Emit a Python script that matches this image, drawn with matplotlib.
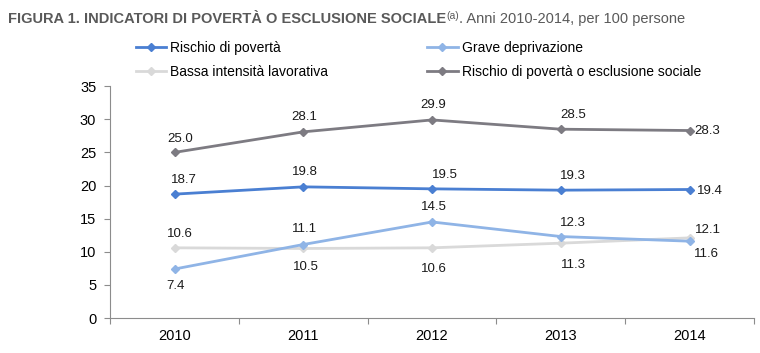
import matplotlib
matplotlib.use("Agg")
import matplotlib.pyplot as plt
import numpy as np

plt.rcParams['font.family'] = ['Liberation Sans', 'DejaVu Sans']

years = ["2010", "2011", "2012", "2013", "2014"]
rischio = [18.7, 19.8, 19.5, 19.3, 19.4]
grave = [7.4, 11.1, 14.5, 12.3, 11.6]
bassa = [10.6, 10.5, 10.6, 11.3, 12.1]
rpes = [25.0, 28.1, 29.9, 28.5, 28.3]

names = ["Rischio di povertà", "Grave deprivazione",
         "Bassa intensità lavorativa", "Rischio di povertà o esclusione sociale"]
colors = ["#4a7fd2", "#8fb4e6", "#d9d9d9", "#7d7b82"]

# label offsets in points (dx, dy)
offsets = {
    0: [(7, 10), (1, 11), (9, 10), (9, 10), (15, -1)],
    1: [(1, -12), (1, 11), (1, 11), (9, 10), (12, -9)],
    2: [(4, 10), (2, -13), (1, -15), (9, -16), (13, 6)],
    3: [(4, 10), (1, 11), (1, 11), (9, 10), (13, 0)],
}

fig = plt.figure(figsize=(7.6, 3.53), dpi=100)
ax = fig.add_axes([0.145, 0.099, 0.847, 0.657])

x = np.arange(len(years))
series = [rischio, grave, bassa, rpes]
draw_order = [2, 1, 0, 3]
handles = {}
for i in draw_order:
    h, = ax.plot(x, series[i], color=colors[i], lw=2, marker="D", ms=4,
                 label=names[i], zorder=3)
    handles[i] = h
    for j, v in enumerate(series[i]):
        dx, dy = offsets[i][j]
        ax.annotate(f"{v:.1f}", (x[j], v), xytext=(dx, dy), textcoords="offset points",
                    ha="center", va="center", fontsize=9.5, color="#1a1a1a")

ax.set_xlim(-0.5, 4.5)
ax.set_ylim(0, 35)
ax.set_yticks(range(0, 36, 5))
ax.set_xticks(np.arange(-0.5, 5, 1))
ax.set_xticklabels([])
ax.set_xticks(x, minor=True)
ax.set_xticklabels(years, minor=True)
ax.tick_params(axis="x", which="minor", length=0, pad=8, labelsize=10.5)
ax.tick_params(axis="x", which="major", length=4, color="#8c8c8c")
ax.tick_params(axis="y", length=4, color="#8c8c8c", labelsize=10.5, pad=6)
for s in ["top", "right"]:
    ax.spines[s].set_visible(False)
for s in ["left", "bottom"]:
    ax.spines[s].set_color("#8c8c8c")

# column-wise fill: col 1 = rischio, bassa; col 2 = grave, rpes
order = [0, 2, 1, 3]
leg = fig.legend([handles[k] for k in order], [names[k] for k in order],
                 ncol=2, loc="upper left", bbox_to_anchor=(0.162, 0.92),
                 frameon=False, fontsize=10, handlelength=2.2, handletextpad=0.3,
                 columnspacing=7.1, labelspacing=0.75)

# title in pieces
grey = "#595959"
fig.canvas.draw()
r = fig.canvas.get_renderer()
t1 = fig.text(0.011, 0.945, "FIGURA 1. INDICATORI DI POVERTÀ O ESCLUSIONE SOCIALE",
              fontsize=10.5, fontweight="bold", color=grey, va="center")
bb = t1.get_window_extent(r)
xpos = bb.x1 / fig.bbox.width
t2 = fig.text(xpos, 0.955, "(a)", fontsize=7.5, color=grey, va="center")
bb = t2.get_window_extent(r)
xpos = bb.x1 / fig.bbox.width
fig.text(xpos, 0.945, ". Anni 2010-2014, per 100 persone",
         fontsize=10.5, color=grey, va="center")

fig.savefig("out.png", dpi=100)
